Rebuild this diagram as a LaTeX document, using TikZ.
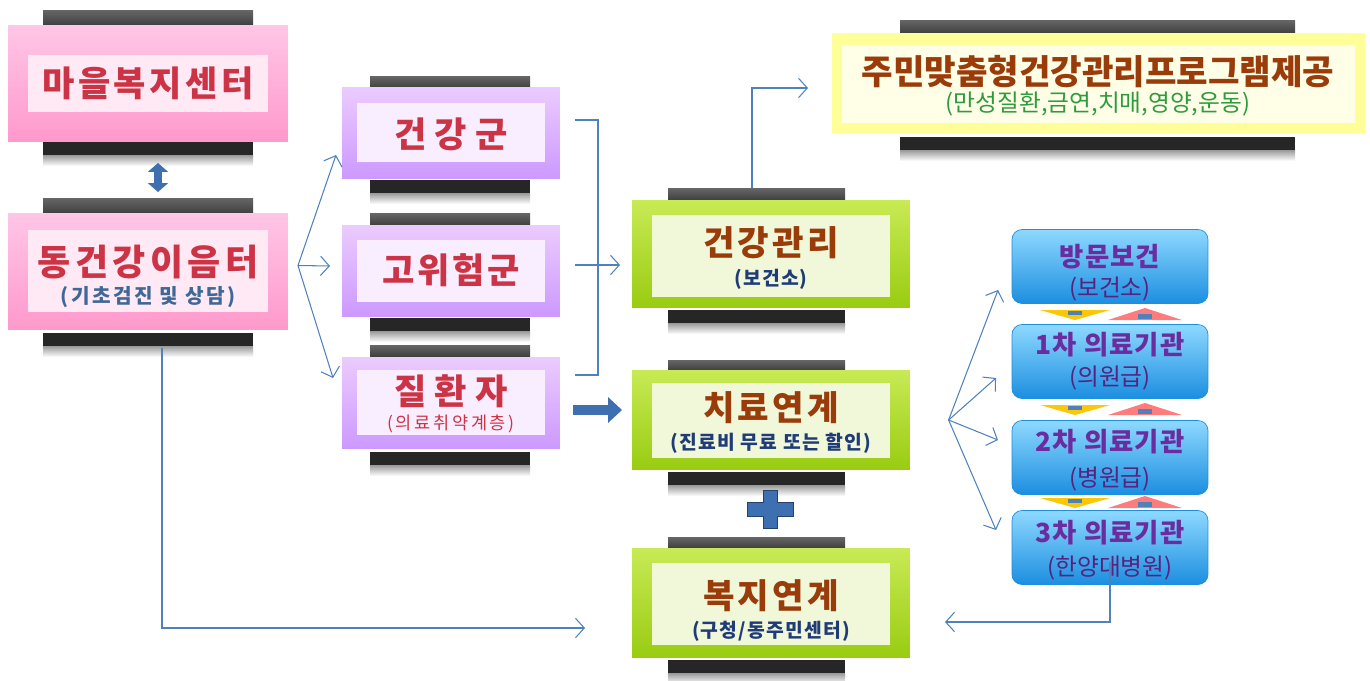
\documentclass[tikz,border=0pt]{standalone}
\usepackage{fontspec}
\setmainfont{Noto Sans CJK KR}
\usetikzlibrary{arrows.meta}

\definecolor{lineblue}{HTML}{4F81BD}
\definecolor{fatblue}{HTML}{3E6FB0}
\definecolor{pinkA}{HTML}{FFC6E6}
\definecolor{pinkB}{HTML}{FF99CC}
\definecolor{pinkIn}{HTML}{FFE9F5}
\definecolor{purpA}{HTML}{EBCBFF}
\definecolor{purpB}{HTML}{CC99FF}
\definecolor{purpIn}{HTML}{F9EEFF}
\definecolor{greenA}{HTML}{C8EA55}
\definecolor{greenB}{HTML}{99CC11}
\definecolor{greenIn}{HTML}{F1F8DA}
\definecolor{yelA}{HTML}{FFFF99}
\definecolor{yelIn}{HTML}{FFFFE8}
\definecolor{skyA}{HTML}{8ED8FF}
\definecolor{skyB}{HTML}{1C8FE0}
\definecolor{redtxt}{HTML}{CC3344}
\definecolor{navytxt}{HTML}{1F3C78}
\definecolor{browntxt}{HTML}{9A3B0A}
\definecolor{greentxt}{HTML}{2E9B3E}
\definecolor{purptxt}{HTML}{6B2CA0}

\begin{document}
\begin{tikzpicture}[x=0.02cm,y=-0.02cm,
    link/.style={-{Straight Barb[length=5pt,width=11pt]},draw=lineblue,semithick},
    fat/.style={-{Triangle[length=0.28cm,width=0.5cm]},draw=fatblue,line width=0.2cm},
    topbar/.style={top color=black!60,bottom color=black!75},
    botbar/.style={fill=black!85},
    barshadow/.style={top color=black!40,bottom color=white},
    box/.style={inner sep=0pt,outer sep=0pt},
    pinkbox/.style={box,top color=pinkA,bottom color=pinkB,minimum width=5.6cm,minimum height=2.34cm},
    purpbox/.style={box,top color=purpA,bottom color=purpB,minimum width=4.36cm,minimum height=1.82cm},
    greenbox/.style={box,top color=greenA,bottom color=greenB,minimum width=5.56cm},
    yelbox/.style={box,fill=yelA,minimum width=10.66cm,minimum height=2cm},
    skybox/.style={box,top color=skyA,bottom color=skyB,draw=skyB,rounded corners=0.2cm,minimum width=3.92cm,minimum height=1.48cm},
    redtitle/.style={text=redtxt,font=\fontsize{20}{24}\selectfont\bfseries\addfontfeatures{LetterSpace=10}},
    redsub/.style={text=redtxt,font=\fontsize{10}{12}\selectfont\addfontfeatures{LetterSpace=15}},
    browntitle/.style={text=browntxt,font=\fontsize{19.5}{24}\selectfont\bfseries},
    navysub/.style={text=navytxt,font=\fontsize{11}{13}\selectfont\bfseries\addfontfeatures{LetterSpace=6}},
    purptitle/.style={text=purptxt,font=\fontsize{15}{18}\selectfont\bfseries\addfontfeatures{LetterSpace=4}},
    purpsub/.style={text=purptxt!80!black,font=\fontsize{13.5}{16}\selectfont},
  ]
    \useasboundingbox (0,0) rectangle (1370,680);

    % dark bars above and below the boxes
    \foreach \xa/\xb/\ya/\yb/\yc in {43/253/10/25/142, 43/253/198/213/333,
        370/530/76/88/180, 370/530/213/225/318, 370/530/345/356/452,
        668/845/188/200/310, 668/845/360/370/472, 668/845/537/548/660,
        900/1295/20/33/137} {
      \fill[topbar] (\xa,\ya) rectangle (\xb,\yb);
      \fill[botbar] (\xa,\yc) rectangle (\xb,\yc+13);
      \fill[barshadow] (\xa,\yc+13) rectangle (\xb,\yc+24);
    }

    \node[pinkbox] (maeul) at (148,83.5) {};
    \node[pinkbox] (ieum) at (148,271.5) {};
    \node[purpbox] (gun1) at (451,133) {};
    \node[purpbox] (gun2) at (451,271) {};
    \node[purpbox] (gun3) at (451,403) {};
    \node[greenbox,minimum height=2.16cm] (gwanri) at (771,254) {};
    \node[greenbox,minimum height=2cm] (chiryo) at (771,420) {};
    \node[greenbox,minimum height=2.2cm] (bokji) at (771,603) {};
    \node[yelbox] (prog) at (1098.5,83) {};

    % lighter panels inside
    \foreach \c/\xa/\ya/\xb/\yb in {pinkIn/28/55/268/112, pinkIn/28/230/268/312,
        purpIn/357/103/545/162, purpIn/357/240/545/302, purpIn/357/370/545/435,
        greenIn/652/215/890/297, greenIn/652/383/890/458, greenIn/652/563/890/645,
        yelIn/842/45/1355/123}
      \fill[\c] (\xa,\ya) rectangle (\xb,\yb);

    \node[skybox] (bang) at (1110,266.5) {};
    \node[skybox] (il) at (1110,361.5) {};
    \node[skybox] (i) at (1110,457.5) {};
    \node[skybox] (sam) at (1110,547.5) {};

    % small up/down arrows between the hospital levels
    \foreach \y in {314,409,502} {
      \fill[yellow!60!orange] (1040,\y-4) -- (1110,\y-4) -- (1075,\y+6) -- cycle;
      \fill[lineblue] (1068,\y-3) rectangle (1082,\y+1);
      \fill[red!35!pink] (1108,\y+6) -- (1182,\y+6) -- (1145,\y-6) -- cycle;
      \fill[lineblue] (1138,\y) rectangle (1152,\y+5);
    }

    \node[redtitle] (maeul-t) at (148,83) {마을복지센터};
    \node[redtitle,font=\fontsize{20.5}{24}\selectfont\bfseries\addfontfeatures{LetterSpace=12}] (ieum-t) at (148,262) {동건강이음터};
    \node[navysub,text=lineblue!80!black,font=\fontsize{11.5}{13}\selectfont\bfseries\addfontfeatures{LetterSpace=12}] (ieum-s) at (148,297) {(기초검진 및 상담)};
    \node[redtitle,font=\fontsize{20}{24}\selectfont\bfseries] (gun1-t) at (451,134) {건 강 군};
    \node[redtitle,font=\fontsize{20}{24}\selectfont\bfseries\addfontfeatures{LetterSpace=7}] (gun2-t) at (451,270) {고위험군};
    \node[redtitle,font=\fontsize{20}{24}\selectfont\bfseries] (gun3-t) at (451,391) {질 환 자};
    \node[redsub] (gun3-s) at (451,424) {(의료취약계층)};
    \node[browntitle,font=\fontsize{19.5}{24}\selectfont\bfseries\addfontfeatures{LetterSpace=9}] (gwanri-t) at (771,243) {건강관리};
    \node[navysub] (gwanri-s) at (771,279) {(보건소)};
    \node[browntitle,font=\fontsize{19.5}{24}\selectfont\bfseries\addfontfeatures{LetterSpace=9}] (chiryo-t) at (771,408) {치료연계};
    \node[navysub] (chiryo-s) at (771,443) {(진료비 무료 또는 할인)};
    \node[browntitle,font=\fontsize{19.5}{24}\selectfont\bfseries\addfontfeatures{LetterSpace=9}] (bokji-t) at (771,596) {복지연계};
    \node[navysub] (bokji-s) at (771,631) {(구청/동주민센터)};
    \node[browntitle] (prog-t) at (1098,72) {주민맞춤형건강관리프로그램제공};
    \node[text=greentxt,font=\fontsize{13.5}{16}\selectfont] (prog-s) at (1098,104) {(만성질환,금연,치매,영양,운동)};
    \node[purptitle] (bang-t) at (1110,257) {방문보건};
    \node[purpsub] (bang-s) at (1110,289) {(보건소)};
    \node[purptitle] (il-t) at (1110,345) {1차 의료기관};
    \node[purpsub] (il-s) at (1110,378) {(의원급)};
    \node[purptitle] (i-t) at (1110,442) {2차 의료기관};
    \node[purpsub] (i-s) at (1110,479) {(병원급)};
    \node[purptitle] (sam-t) at (1110,533) {3차 의료기관};
    \node[purpsub] (sam-s) at (1110,568) {(한양대병원)};

    % connectors
    \draw[{Triangle[length=0.18cm,width=0.4cm]}-{Triangle[length=0.18cm,width=0.4cm]},draw=fatblue,line width=0.16cm]
      ([shift={(10,21)}]maeul.south) -- ([shift={(10,-21)}]ieum.north);
    \coordinate (ieumR) at ([shift={(10,-6)}]ieum.east);
    \draw[link] (ieumR) -- ([shift={(-6,22)}]gun1.west);
    \draw[link] (ieumR) -- ([shift={(-12,-5)}]gun2.west);
    \draw[link] (ieumR) -- ([shift={(-9,-25)}]gun3.west);
    \draw[draw=lineblue,semithick] ([shift={(15,-13)}]gun1.east) -- ++(23,0) |- ([shift={(15,-28)}]gun3.east);
    \draw[link] ([shift={(15,-6)}]gun2.east) -- ([shift={(-12,11)}]gwanri.west);
    \draw[fat] ([shift={(13,7)}]gun3.east) -- ([shift={(-10,-10)}]chiryo.west);
    \fill[fatblue,draw=fatblue!60!black] (763,490) -- (777,490) -- (777,502) -- (793,502) -- (793,516) -- (777,516)
      -- (777,528) -- (763,528) -- (763,516) -- (747,516) -- (747,502) -- (763,502) -- cycle;
    \draw[link] ([shift={(-19,-12)}]gwanri.north) |- ([shift={(-24,5)}]prog.west);
    \coordinate (chiryoR) at ([xshift=22]chiryo.east);
    \draw[link] (chiryoR) -- ([shift={(-14,23.5)}]bang.west);
    \draw[link] (chiryoR) -- ([shift={(-16,16.5)}]il.west);
    \draw[link] (chiryoR) -- ([shift={(-14,-17.5)}]i.west);
    \draw[link] (chiryoR) -- ([shift={(-16,-17.5)}]sam.west);
    \draw[link] ([yshift=13]sam.south) |- ([shift={(35,19)}]bokji.east);
    \draw[link] ([shift={(14,18)}]ieum.south) |- ([shift={(-47,25)}]bokji.west);
\end{tikzpicture}
\end{document}
